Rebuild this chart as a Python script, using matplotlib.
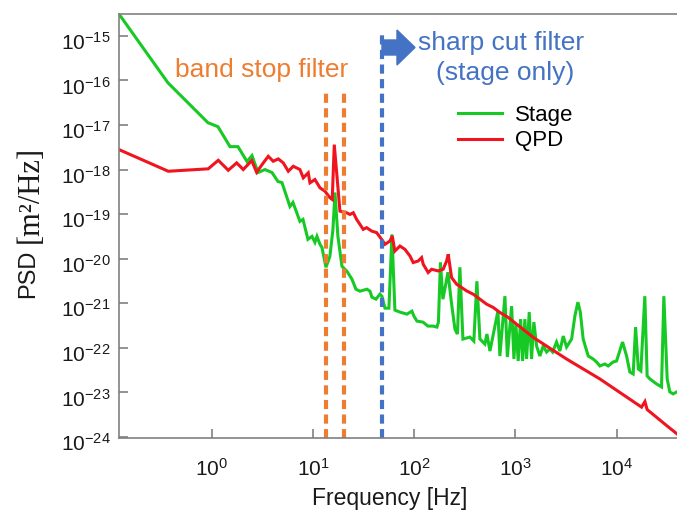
import numpy as np
import matplotlib.pyplot as plt
import matplotlib.transforms as mtransforms
from matplotlib.patches import FancyArrow
from matplotlib.ticker import FuncFormatter, NullLocator

plt.rcParams['font.family'] = ['Liberation Sans', 'DejaVu Sans']
plt.rcParams['mathtext.fontset'] = 'custom'
plt.rcParams['mathtext.rm'] = 'Liberation Sans'
plt.rcParams['mathtext.it'] = 'Liberation Sans:italic'
plt.rcParams['mathtext.bf'] = 'Liberation Sans:bold'

# values, stored as log10 exponents
stage_logf = [-0.916, -0.432, -0.037, 0.062, 0.181, 0.260, 0.349, 0.398, 0.458, 0.526,
              0.596, 0.655, 0.694, 0.773, 0.803, 0.872, 0.902, 0.951, 0.991, 1.020,
              1.040, 1.070, 1.089, 1.129, 1.168, 1.198, 1.218, 1.247, 1.287, 1.336,
              1.386, 1.425, 1.465, 1.534, 1.564, 1.583, 1.623, 1.662, 1.682, 1.712,
              1.751, 1.781, 1.810, 1.860, 1.929, 1.978, 1.998, 2.028, 2.087, 2.136,
              2.186, 2.225, 2.240, 2.260, 2.284, 2.309, 2.334, 2.368, 2.403, 2.428,
              2.452, 2.482, 2.551, 2.590, 2.620, 2.650, 2.699, 2.719, 2.749, 2.828,
              2.847, 2.897, 2.921, 2.963, 2.986, 3.005, 3.028, 3.052, 3.072, 3.094,
              3.111, 3.137, 3.160, 3.183, 3.210, 3.242, 3.275, 3.309, 3.341, 3.368,
              3.407, 3.440, 3.473, 3.506, 3.556, 3.588, 3.618, 3.642, 3.670, 3.720,
              3.769, 3.802, 3.835, 3.884, 3.917, 3.966, 4.000, 4.059, 4.099, 4.131,
              4.164, 4.188, 4.215, 4.240, 4.279, 4.302, 4.329, 4.395, 4.444, 4.467,
              4.500, 4.526, 4.559, 4.595]
stage_logpsd = [-14.508, -16.052, -16.947, -17.036, -17.484, -17.484, -17.819, -17.685, -18.065, -17.998,
                -18.065, -18.267, -18.289, -18.826, -18.736, -19.161, -19.117, -19.564, -19.497, -19.631,
                -19.497, -19.676, -19.743, -20.191, -19.944, -19.340, -18.513, -19.497, -20.168, -20.280,
                -20.459, -20.683, -20.727, -20.683, -20.727, -20.862, -20.906, -20.795, -20.840, -21.108,
                -21.108, -19.452, -21.152, -21.197, -21.242, -21.175, -21.287, -21.399, -21.421, -21.510,
                -21.510, -21.533, -21.421, -20.079, -20.906, -20.616, -20.302, -20.973, -21.578, -21.689,
                -20.191, -21.801, -21.757, -21.846, -20.504, -21.801, -21.913, -21.689, -22.070, -21.175,
                -22.182, -20.839, -22.204, -21.063, -22.249, -21.466, -22.293, -21.354, -22.293, -21.354,
                -22.249, -21.197, -22.249, -21.421, -21.958, -22.182, -21.958, -22.092, -22.025, -22.092,
                -21.868, -22.070, -21.734, -21.980, -21.801, -21.287, -20.974, -21.197, -21.801, -22.182,
                -22.249, -22.316, -22.405, -22.361, -22.405, -22.316, -22.293, -21.868, -22.182, -22.540,
                -22.584, -21.533, -22.472, -22.517, -20.839, -22.629, -22.696, -22.808, -22.875, -20.839,
                -22.696, -22.987, -23.032, -22.987]

qpd_logf = [-0.915, -0.429, -0.034, 0.065, 0.164, 0.247, 0.312, 0.395, 0.444, 0.510,
            0.559, 0.608, 0.658, 0.707, 0.757, 0.806, 0.872, 0.905, 0.954, 0.971,
            1.020, 1.070, 1.119, 1.168, 1.191, 1.211, 1.235, 1.267, 1.333, 1.366,
            1.399, 1.432, 1.465, 1.497, 1.531, 1.580, 1.630, 1.679, 1.712, 1.761,
            1.784, 1.810, 1.860, 1.909, 1.959, 1.991, 2.040, 2.074, 2.090, 2.139,
            2.173, 2.238, 2.287, 2.321, 2.337, 2.370, 2.420, 2.469, 2.519, 2.584,
            2.650, 2.716, 2.781, 2.847, 2.929, 3.176, 3.506, 3.835, 4.247, 4.280,
            4.302, 4.494, 4.596]
qpd_logpsd = [-17.551, -18.036, -17.982, -17.790, -18.014, -17.848, -17.998, -17.797, -18.059, -17.848,
              -17.701, -17.812, -17.759, -17.848, -18.036, -17.924, -17.998, -18.184, -18.072, -18.296,
              -18.222, -18.408, -18.484, -18.631, -18.669, -17.439, -18.072, -18.931, -18.967, -19.005,
              -18.967, -19.117, -19.229, -19.340, -19.302, -19.378, -19.414, -19.564, -19.676, -19.602,
              -19.490, -19.826, -19.714, -19.788, -19.938, -20.085, -20.050, -19.974, -20.123, -20.309,
              -20.235, -20.273, -20.235, -20.050, -19.900, -20.421, -20.571, -20.645, -20.721, -20.795,
              -20.906, -21.018, -21.092, -21.204, -21.316, -21.763, -22.249, -22.696, -23.329, -23.204,
              -23.383, -23.741, -23.927]

band_stop_freqs = [13.45, 20.3]
band_stop_top = 6.2e-17
sharp_cut_freq = 47.8
sharp_cut_top = 1.36e-15

series_labels = ['Stage', 'QPD']
x_tick_exps = [0, 1, 2, 3, 4]
y_tick_exps = [-24, -23, -22, -21, -20, -19, -18, -17, -16, -15]

green = '#17c924'
red = '#f0141e'
orange = '#ed7d31'
blue = '#4472c4'
grey = '#808080'

W, H = 677, 514
fig = plt.figure(figsize=(W / 100, H / 100), dpi=100)
ax = fig.add_axes([119 / W, (H - 437.5) / H, 1 - 119 / W, (437.5 - 14) / H])

ax.plot(10 ** np.array(stage_logf), 10 ** np.array(stage_logpsd), color=green, lw=2.2,
        label=series_labels[0], solid_joinstyle='miter')
ax.plot(10 ** np.array(qpd_logf), 10 ** np.array(qpd_logpsd), color=red, lw=2.2,
        label=series_labels[1], solid_joinstyle='miter')

ax.set_xscale('log')
ax.set_yscale('log')
ax.set_xlim(10 ** -0.9156, 10 ** 4.597)
ax.set_ylim(10 ** -24.01, 10 ** -14.508)

# filter markers
for f in band_stop_freqs:
    ax.plot([f, f], [1e-25, band_stop_top], color=orange, lw=3, dashes=(2.2, 1.3))
ax.plot([sharp_cut_freq, sharp_cut_freq], [1e-25, sharp_cut_top], color=blue, lw=3,
        dashes=(2.2, 1.3))

ax.set_xticks([10.0 ** e for e in x_tick_exps])
ax.set_yticks([10.0 ** e for e in y_tick_exps])
ax.xaxis.set_minor_locator(NullLocator())
ax.yaxis.set_minor_locator(NullLocator())
fmt = FuncFormatter(lambda v, pos: '10$^{%d}$' % int(round(np.log10(v))))
ax.xaxis.set_major_formatter(fmt)
ax.yaxis.set_major_formatter(fmt)
ax.tick_params(direction='in', length=6.5, width=1.2, color=grey, labelsize=15,
               labelcolor='#1a1a1a')
ax.tick_params(axis='x', pad=15)
ax.tick_params(axis='y', pad=6)

# y labels sit a little lower in the original
shift = mtransforms.ScaledTranslation(0, -5 / 100, fig.dpi_scale_trans)
for lab in ax.get_yticklabels():
    lab.set_transform(lab.get_transform() + shift)

for side in ['left', 'top', 'bottom']:
    ax.spines[side].set_color(grey)
    ax.spines[side].set_linewidth(1.2)
ax.spines['right'].set_visible(False)

# axis titles
fig.text(390 / W, 1 - 505 / H, 'Frequency [Hz]', fontsize=16.5, ha='center', va='baseline',
         color='#1a1a1a')
fig.text(28 / W, 1 - 274 / H, 'PSD', fontsize=17, rotation=90, ha='center', va='center',
         color='#1a1a1a')
fig.text(30 / W, 1 - 194 / H, '[m\u00b2/Hz]', fontsize=22, rotation=90, ha='center',
         va='center', family=['Liberation Serif', 'DejaVu Serif'], color='#1a1a1a')

# annotations
fig.text(262 / W, 1 - 77 / H, 'band stop filter', fontsize=19, color=orange, ha='center',
         va='baseline')
fig.text(501 / W, 1 - 50 / H, 'sharp cut filter', fontsize=19, color=blue, ha='center',
         va='baseline')
fig.text(505 / W, 1 - 80 / H, '(stage only)', fontsize=19, color=blue, ha='center',
         va='baseline')
arrow = FancyArrow(3.82, (H - 47.5) / 100, 0.33, 0, width=0.15, head_width=0.35,
                   head_length=0.18, length_includes_head=True, color=blue,
                   transform=fig.dpi_scale_trans)
fig.add_artist(arrow)

leg = ax.legend(loc='upper left', bbox_to_anchor=(458 / W, 1 - 105 / H),
                bbox_transform=fig.transFigure, frameon=False, fontsize=16,
                handlelength=2.0, handletextpad=0.55, labelspacing=0.2,
                borderpad=0, borderaxespad=0)
for line in leg.get_lines():
    line.set_linewidth(2.2)

fig.savefig('out.png', dpi=100)
